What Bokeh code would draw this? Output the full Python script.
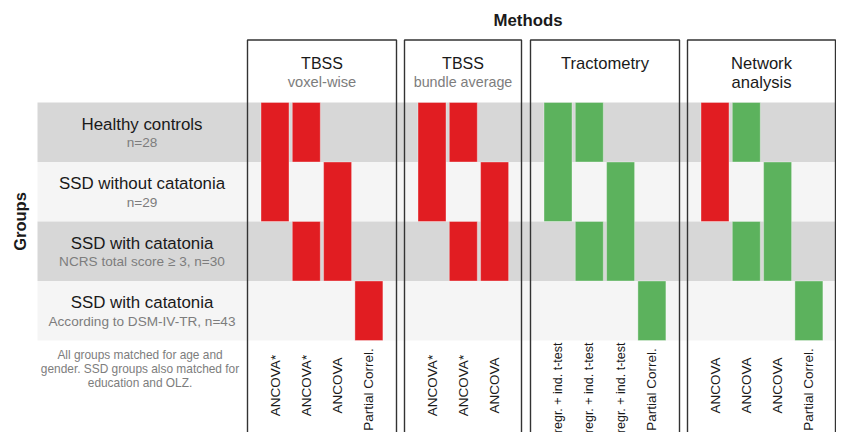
import math
from bokeh.plotting import figure
from bokeh.models import Range1d, ColumnDataSource
from bokeh.core.properties import value
from bokeh.embed import file_html
from bokeh.resources import INLINE

# ---------------- data ----------------
groups = ["Healthy controls", "SSD without catatonia", "SSD with catatonia", "SSD with catatonia"]
group_details = ["n=28", "n=29", "NCRS total score \u2265 3, n=30", "According to DSM-IV-TR, n=43"]

method_titles = ["TBSS", "TBSS", "Tractometry", "Network"]
method_subtitles = ["voxel-wise", "bundle average", "", "analysis"]

tbss_voxel_tests = ["ANCOVA*", "ANCOVA*", "ANCOVA", "Partial Correl."]
tbss_bundle_tests = ["ANCOVA*", "ANCOVA*", "ANCOVA"]
tractometry_tests = ["regr. + ind. t-test", "regr. + ind. t-test", "regr. + ind. t-test", "Partial Correl."]
network_tests = ["ANCOVA", "ANCOVA", "ANCOVA", "Partial Correl."]
method_tests = [tbss_voxel_tests, tbss_bundle_tests, tractometry_tests, network_tests]

# bars: method index, test index, first group, last group, result kind
bar_method = [0, 0, 0, 0, 0,  1, 1, 1, 1,  2, 2, 2, 2, 2,  3, 3, 3, 3, 3]
bar_test   = [0, 1, 1, 2, 3,  0, 1, 1, 2,  0, 1, 1, 2, 3,  0, 1, 1, 2, 3]
bar_first  = [0, 0, 2, 1, 3,  0, 0, 2, 1,  0, 0, 2, 1, 3,  0, 0, 2, 1, 3]
bar_last   = [1, 0, 2, 2, 3,  1, 0, 2, 2,  1, 0, 2, 2, 3,  1, 0, 2, 2, 3]
bar_kind   = ["red"] * 9 + ["green"] * 5 + ["red"] + ["green"] * 4

footnote = ["All groups matched for age and",
            "gender. SSD groups also matched for",
            "education and OLZ."]

# ---------------- layout ----------------
W, H = 836, 432
FONT = "Liberation Sans"
BLACK = "#1a1a1a"
GREY = "#7d7d7d"
RED = "#e11d22"
GREEN = "#5cb25d"
colors = {"red": RED, "green": GREEN}

box_left = [247, 404, 530, 687]
box_right = [396, 521, 679, 835]
box_top = 39.5
col_offset = 27.5
col_pitch = 31.3
bar_w = 28
row_top0 = 102
row_h = 59.5
band_left = 37
band_colors = ["#d7d7d7", "#f5f5f5", "#d7d7d7", "#f5f5f5"]

def col_x(m, t):
    return box_left[m] + col_offset + t * col_pitch

p = figure(width=W, height=H, output_backend="svg", toolbar_location=None,
           x_range=Range1d(0, W), y_range=Range1d(H, 0),
           min_border=0, min_border_left=0, min_border_right=0,
           min_border_top=0, min_border_bottom=0)
p.axis.visible = False
p.grid.visible = False
p.outline_line_color = None
p.background_fill_color = "white"
p.border_fill_color = "white"

# row bands
p.quad(left=[band_left] * 4, right=[900] * 4,
       top=[row_top0 + i * row_h for i in range(4)],
       bottom=[row_top0 + (i + 1) * row_h for i in range(4)],
       fill_color=band_colors, line_color=None)

# bars
bsrc = ColumnDataSource(dict(
    x=[col_x(m, t) for m, t in zip(bar_method, bar_test)],
    top=[row_top0 + f * row_h for f in bar_first],
    bottom=[row_top0 + (l + 1) * row_h for l in bar_last],
    color=[colors[k] for k in bar_kind],
))
p.vbar(x="x", width=bar_w, top="top", bottom="bottom", source=bsrc,
       fill_color="color", line_color="white", line_alpha=0.35, line_width=1)

# method boxes (three sides)
for l, r in zip(box_left, box_right):
    p.line(x=[l, l, r, r], y=[470, box_top, box_top, 470], line_color="#333333", line_width=1.4)

# titles
centers = [(l + r) / 2 for l, r in zip(box_left, box_right)]
title_sizes = ["16px", "16px", "16.6px", "16.6px"]
for c, s, sz in zip(centers, method_titles, title_sizes):
    p.text(x=[c], y=[63], text=[s], text_font=value(FONT), text_font_size=sz,
           text_color=BLACK, text_align="center", text_baseline="middle")
sub_colors = [GREY, GREY, GREY, BLACK]
sub_sizes = ["14.7px", "14.3px", "14.5px", "16.6px"]
for c, s, col, sz in zip(centers, method_subtitles, sub_colors, sub_sizes):
    if s:
        p.text(x=[c], y=[81.5], text=[s], text_font=value(FONT), text_font_size=sz,
               text_color=col, text_align="center", text_baseline="middle")

p.text(x=[527.5], y=[20], text=["Methods"], text_font=value(FONT), text_font_size="16.8px",
       text_font_style="bold", text_color=BLACK, text_align="center", text_baseline="middle")
p.text(x=[19], y=[221], text=["Groups"], text_font=value(FONT), text_font_size="16.5px",
       text_font_style="bold", text_color=BLACK, text_align="center", text_baseline="middle",
       angle=math.pi / 2)

# group labels
gx = 141.5
p.text(x=[gx] * 4, y=[row_top0 + (i + 0.5) * row_h - 8 for i in range(4)], text=groups,
       text_font=value(FONT), text_font_size="16.9px", text_color=BLACK,
       text_align="center", text_baseline="middle")
p.text(x=[gx] * 4, y=[row_top0 + (i + 0.5) * row_h + 10.5 for i in range(4)], text=group_details,
       text_font=value(FONT), text_font_size="13.6px", text_color=GREY,
       text_align="center", text_baseline="middle")

# footnote
p.text(x=[139.5] * 3, y=[354 + i * 14.3 for i in range(3)], text=footnote,
       text_font=value(FONT), text_font_size="11.9px", text_color=GREY,
       text_align="center", text_baseline="middle")

# test labels (rotated, reading upward)
for m, tests in enumerate(method_tests):
    for t, txt in enumerate(tests):
        if txt.startswith("regr."):
            sz, al, yy = "12.5px", "right", 342
        elif txt.startswith("Partial"):
            sz, al, yy = "13.5px", "center", 389
        else:
            sz, al, yy = "13.5px", "center", 385
        p.text(x=[col_x(m, t)], y=[yy], text=[txt],
               text_font=value(FONT), text_font_size=sz, text_color=BLACK,
               text_align=al, text_baseline="middle", angle=math.pi / 2)

open("out.html", "w").write(file_html(p, INLINE))
